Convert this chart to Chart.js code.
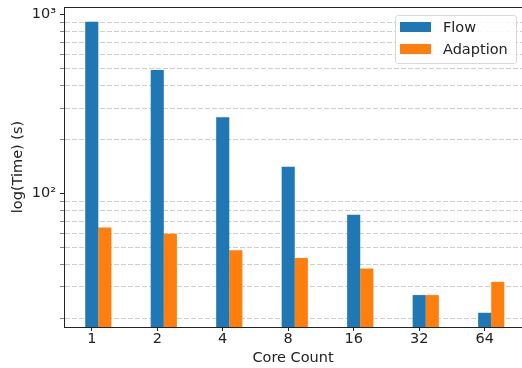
<!DOCTYPE html>
<html>
<head>
<meta charset="utf-8">
<script src="https://cdn.jsdelivr.net/npm/chart.js@4/dist/chart.umd.min.js"></script>
<style>
  html, body { margin: 0; padding: 0; background: #fff; overflow: hidden; }
  #wrap { position: relative; width: 522px; height: 368px; }
  #legend {
    position: absolute; left: 395px; top: 15px; width: 122px; height: 49px;
    border: 1px solid #d9d9d9; border-radius: 3px; background: rgba(255,255,255,0.85);
    font-family: "DejaVu Sans", sans-serif; font-size: 14.5px; color: #222; box-sizing: border-box;
  }
  .item { position: absolute; left: 4px; height: 16px; line-height: 16px; white-space: nowrap; }
  .patch { display: inline-block; width: 31px; height: 10px; vertical-align: middle; margin-right: 12px; position: relative; top: -1px; }
</style>
</head>
<body>
<div id="wrap">
  <canvas id="c" width="522" height="368"></canvas>
  <div id="legend"></div>
</div>
<script>
const categories = ["1", "2", "4", "8", "16", "32", "64"];
const flowTimes = [910, 490, 266, 141, 76, 27, 21.5];
const adaptionTimes = [64.5, 59.5, 48, 43.5, 38, 27, 32];
const seriesNames = ["Flow", "Adaption"];
const seriesColors = ["#1f77b4", "#ff7f0e"];
const yMajorTicks = [100, 1000];
const yMinorTicks = [20, 30, 40, 50, 60, 70, 80, 90, 200, 300, 400, 500, 600, 700, 800, 900];
const yMajorLabels = { 100: "10\u00b2", 1000: "10\u00b3" };

const FONT = "'DejaVu Sans', sans-serif";
const TXT = "#222";
const GROUP_FRACTION = 0.4;                 // share of a category taken by the bar pair
const TICK_SHIFT = GROUP_FRACTION / 4;      // x tick sits under the centre of the first bar

const toPts = arr => arr.map((v, i) => ({ x: i, y: v }));

// legend
const lg = document.getElementById('legend');
seriesNames.forEach((n, i) => {
  const d = document.createElement('div');
  d.className = 'item';
  d.style.top = (i === 0 ? 3 : 25) + 'px';
  d.innerHTML = '<span class="patch" style="background:' + seriesColors[i] + '"></span>' + n;
  lg.appendChild(d);
});

const frame = {
  id: 'frame',
  afterDraw(chart) {
    const { ctx, chartArea: a } = chart;
    ctx.save();
    ctx.strokeStyle = '#222';
    ctx.lineWidth = 1;
    ctx.beginPath();
    ctx.moveTo(a.left, a.top + 0.5);
    ctx.lineTo(a.right, a.top + 0.5);
    ctx.stroke();
    ctx.restore();
  }
};

const allY = yMinorTicks.concat(yMajorTicks).sort((a, b) => a - b);

new Chart(document.getElementById('c'), {
  type: 'bar',
  data: {
    datasets: [
      { label: seriesNames[0], data: toPts(flowTimes), backgroundColor: seriesColors[0], borderWidth: 0 },
      { label: seriesNames[1], data: toPts(adaptionTimes), backgroundColor: seriesColors[1], borderWidth: 0 }
    ]
  },
  options: {
    responsive: false,
    animation: false,
    events: [],
    layout: { padding: { left: 0, top: 7, right: 0, bottom: 0 } },
    datasets: { bar: { categoryPercentage: GROUP_FRACTION, barPercentage: 1.0 } },
    plugins: { legend: { display: false }, tooltip: { enabled: false } },
    scales: {
      x: {
        type: 'linear',
        offset: false,
        min: -0.524,
        max: 6.47,
        afterBuildTicks: s => { s.ticks = categories.map((c, i) => ({ value: i - TICK_SHIFT })); },
        afterFit: s => { s.height = 41; s.paddingLeft = 0; s.paddingRight = 0; },
        grid: { offset: false, drawOnChartArea: false, drawTicks: true, tickLength: 4, tickColor: '#222' },
        border: { display: true, color: '#222', width: 1 },
        ticks: {
          color: TXT, font: { family: FONT, size: 14.5 }, padding: 0, maxRotation: 0,
          callback: (v, idx) => categories[idx] !== undefined ? categories[idx] : ''
        },
        title: { display: true, text: 'Core Count', color: TXT, font: { family: FONT, size: 14.5 }, padding: { top: 0, bottom: 1 } }
      },
      y: {
        type: 'logarithmic',
        min: 17.9,
        max: 1101,
        afterBuildTicks: s => { s.ticks = allY.map(v => ({ value: v })); },
        afterFit: s => { s.width = 64; s.paddingTop = 0; s.paddingBottom = 0; },
        grid: {
          drawTicks: true, tickLength: 4,
          color: ctx => (ctx.tick && yMajorTicks.includes(ctx.tick.value)) ? 'rgba(0,0,0,0)' : '#cdcdcd',
          tickColor: ctx => (ctx.tick && yMajorTicks.includes(ctx.tick.value)) ? '#222' : '#888',
          lineWidth: 1
        },
        border: { display: true, color: '#222', width: 1, dash: [5, 2] },
        ticks: {
          color: TXT, font: { family: FONT, size: 14.5 }, padding: 4, autoSkip: false,
          callback: v => yMajorLabels[v] || ''
        },
        title: { display: true, text: 'log(Time) (s)', color: TXT, font: { family: FONT, size: 14.5 }, padding: { top: 10, bottom: 0 } }
      }
    }
  },
  plugins: [frame]
});
</script>
</body>
</html>
